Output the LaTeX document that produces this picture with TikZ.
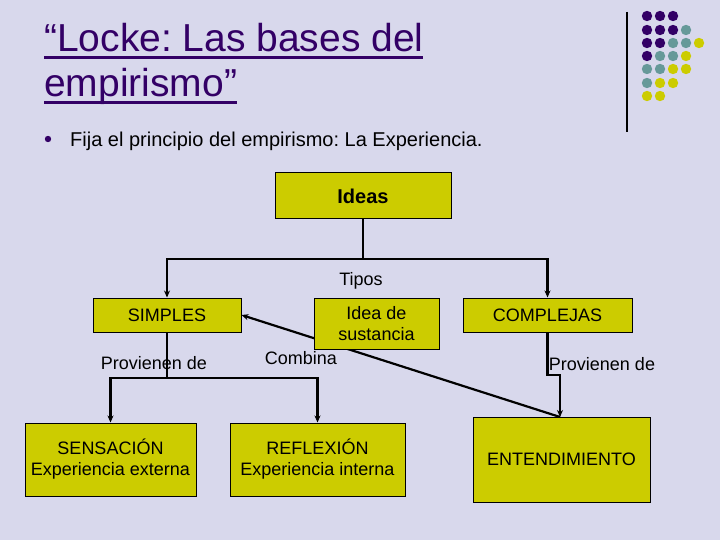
\documentclass[tikz,border=0pt]{standalone}
\usepackage{fontspec}
\setmainfont{Liberation Sans}
\usetikzlibrary{arrows.meta}
\definecolor{bg}{RGB}{216,216,236}
\definecolor{boxy}{RGB}{204,204,0}
\definecolor{tpurple}{RGB}{51,0,102}
\definecolor{teal2}{RGB}{102,153,153}
\tikzset{
  box/.style={draw=black, line width=1pt, fill=boxy, inner sep=0pt, align=center,
    font=\fontsize{18}{21}\selectfont},
  conn/.style={line width=2.2pt, draw=black},
  arr/.style={conn, -{Stealth[length=7pt,width=6pt]}},
  lbl/.style={anchor=base, inner sep=0pt, font=\fontsize{18}{21}\selectfont},
  dotp/.style={fill=tpurple, draw=none},
  dott/.style={fill=teal2, draw=none},
  doty/.style={fill=boxy, draw=none}
}
\frenchspacing
\begin{document}
\frenchspacing
\begin{tikzpicture}[x=1pt,y=-1pt]
\fill[bg] (0,0) rectangle (720,540);
\useasboundingbox (0,0) rectangle (720,540);
% title
\node[anchor=base west, inner sep=0pt, text=tpurple, font=\fontsize{39}{45}\selectfont] (t1) at (44,52) {“Locke: Las bases del};
\node[anchor=base west, inner sep=0pt, text=tpurple, font=\fontsize{39}{45}\selectfont] (t2) at (44,97) {empirismo”};
\fill[tpurple] (44,56) rectangle (423,59);
\fill[tpurple] (44,101.5) rectangle (237,104.5);
% bullet
\fill[tpurple] (48,139) circle (3.2);
\node[anchor=base west, inner sep=0pt, font=\fontsize{20}{24}\selectfont] (b1) at (70,147) {Fija el principio del empirismo: La Experiencia.};
% decoration
\draw[line width=1.4pt] (627,12) -- (627,132);
\foreach \x/\y/\s in {647/16/dotp,660/16/dotp,673/16/dotp,
  647/30/dotp,660/30/dotp,673/30/dotp,686/30/dott,
  647/43/dotp,660/43/dotp,673/43/dott,686/43/dott,699/43/doty,
  647/56/dotp,660/56/dott,673/56/dott,686/56/doty,
  647/69/dott,660/69/dott,673/69/doty,686/69/doty,
  647/83/dott,660/83/doty,673/83/doty,
  647/96/doty,660/96/doty}
  \fill[\s] (\x,\y) circle (5.2);
% boxes
\node[box, minimum width=176pt, minimum height=46pt, font=\fontsize{20}{24}\selectfont\bfseries] (ideas) at (363,196) {Ideas};
\node[box, minimum width=148pt, minimum height=34pt] (simples) at (167,315) {SIMPLES};
\node[box, minimum width=169pt, minimum height=34pt] (compl) at (547.5,315) {COMPLEJAS};
\node[box, minimum width=171pt, minimum height=73pt] (sens) at (110.5,459.5) {SENSACIÓN\\Experiencia externa};
\node[box, minimum width=175pt, minimum height=73pt] (refl) at (317.5,459.5) {REFLEXIÓN\\Experiencia interna};
\node[box, minimum width=177pt, minimum height=85pt] (ent) at (561.5,459.5) {ENTENDIMIENTO};
% connectors
\coordinate (j) at (363,259);
\draw[conn] (ideas.south) -- (j);
\draw[arr] (j) -| (simples.north);
\draw[arr] (j) -| (compl.north);
\coordinate (k) at (167,378);
\draw[conn] (simples.south) -- (k);
\draw[arr] (k) -| (sens.north);
\draw[arr] (k) -| (refl.north);
\coordinate (c2) at (560,375);
\coordinate (et) at (560,417);
\draw[arr] (compl.south) |- (c2) -- (et);
\draw[arr] (et) -- (simples.east);
% Idea de sustancia box (over the diagonal)
\node[box, minimum width=125pt, minimum height=51pt] (sust) at (376.5,323.5) {Idea de\\sustancia};
% labels
\node[lbl] (tipos) at (361,285) {Tipos};
\node[lbl] (prov1) at (154,369) {Provienen de};
\node[lbl] (comb) at (301,364) {Combina};
\node[lbl] (prov2) at (602,370) {Provienen de};
\end{tikzpicture}
\end{document}
